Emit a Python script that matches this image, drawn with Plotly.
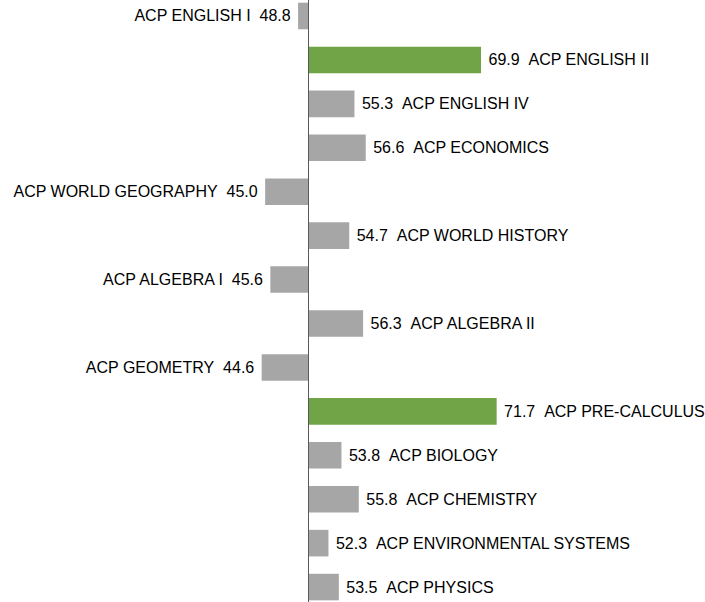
import plotly.graph_objects as go

# Course averages, listed top to bottom
courses = [
    "ACP ENGLISH I", "ACP ENGLISH II", "ACP ENGLISH IV", "ACP ECONOMICS",
    "ACP WORLD GEOGRAPHY", "ACP WORLD HISTORY", "ACP ALGEBRA I", "ACP ALGEBRA II",
    "ACP GEOMETRY", "ACP PRE-CALCULUS", "ACP BIOLOGY", "ACP CHEMISTRY",
    "ACP ENVIRONMENTAL SYSTEMS", "ACP PHYSICS",
]
scores = [48.8, 69.9, 55.3, 56.6, 45.0, 54.7, 45.6, 56.3, 44.6, 71.7, 53.8, 55.8, 52.3, 53.5]
highlight = [False, True, False, False, False, False, False, False, False, True,
             False, False, False, False]

BASELINE = 50
GRAY = "#A6A6A6"
GREEN = "#71A446"
NBSP = "\u00a0"

positions = list(range(len(courses)))
offsets = [s - BASELINE for s in scores]
colors = [GREEN if h else GRAY for h in highlight]
labels = []
for name, s in zip(courses, scores):
    if s >= BASELINE:
        labels.append(f"{NBSP}{s:.1f}{NBSP}{NBSP}{name}")
    else:
        labels.append(f"{name}{NBSP}{NBSP}{s:.1f}{NBSP}")

fig = go.Figure(
    go.Bar(
        y=positions,
        x=offsets,
        base=BASELINE,
        orientation="h",
        width=0.605,
        marker=dict(color=colors, line=dict(width=0)),
        text=labels,
        textposition="outside",
        constraintext="none",
        cliponaxis=False,
        textfont=dict(family="Liberation Sans, Arial, sans-serif", size=16, color="#000000"),
        hoverinfo="skip",
    )
)

fig.add_shape(
    type="line", xref="x", yref="paper",
    x0=BASELINE, x1=BASELINE, y0=0, y1=1,
    line=dict(color="#595959", width=1),
)

fig.update_layout(
    width=705, height=602,
    margin=dict(l=0, r=0, t=0, b=0),
    paper_bgcolor="white", plot_bgcolor="white",
    showlegend=False,
    xaxis=dict(range=[14.42, 95.73], visible=False, showgrid=False, zeroline=False),
    yaxis=dict(range=[13.34, -0.364], visible=False, showgrid=False, zeroline=False),
)

fig.write_html("out.html")
